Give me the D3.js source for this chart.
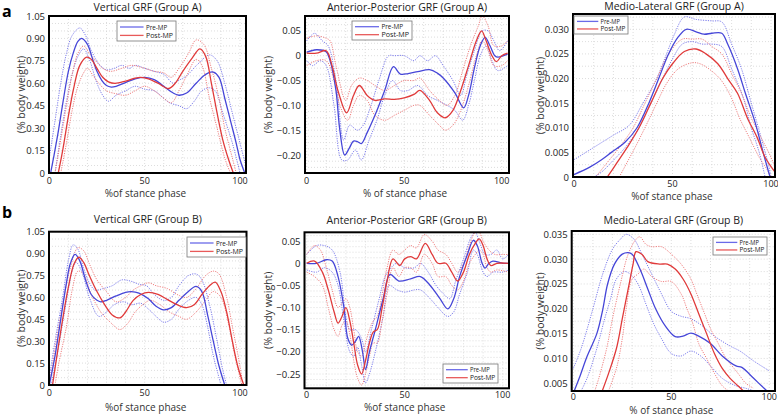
<!DOCTYPE html>
<html><head><meta charset="utf-8">
<script src="https://cdn.jsdelivr.net/npm/d3@7"></script>
<style>body{margin:0;background:#fff}svg{display:block}text{font-family:"Open Sans","DejaVu Sans",sans-serif}</style>
</head><body><svg id="c" width="778" height="415"></svg>
<script>
// ---------------- DATA ----------------
const seriesNames = ["Pre-MP", "Post-MP"];
const titles = ["Vertical GRF (Group A)", "Anterior-Posterior GRF (Group A)", "Medio-Lateral GRF (Group A)",
                "Vertical GRF (Group B)", "Anterior-Posterior GRF (Group B)", "Medio-Lateral GRF (Group B)"];
const xTicks = [0, 50, 100];
const yTicksVert = [0, 0.15, 0.30, 0.45, 0.60, 0.75, 0.90, 1.05];
const yTicksApA = [0.05, 0, -0.05, -0.10, -0.15, -0.20];
const yTicksMlA = [0, 0.005, 0.010, 0.015, 0.020, 0.025, 0.030];
const yTicksApB = [0.05, 0, -0.05, -0.10, -0.15, -0.20, -0.25];
const yTicksMlB = [0.005, 0.010, 0.015, 0.020, 0.025, 0.030, 0.035];

// Vertical GRF, group A
const vertA_pre_mean = [[0.7,0],[2.5,0.12],[5,0.3],[7.5,0.5],[10,0.68],[12.5,0.8],[15,0.88],[17,0.9],[20,0.86],[22.5,0.77],[25,0.68],[27.5,0.62],[30,0.585],[32.5,0.575],[35,0.58],[40,0.605],[45,0.63],[50,0.64],[55,0.625],[60,0.58],[65,0.535],[68,0.52],[72,0.535],[77,0.6],[82,0.66],[86,0.675],[89,0.64],[92,0.5],[95,0.35],[98,0.2],[100,0.09],[102.5,0]];
const vertA_pre_hi = [[0,0.1],[3,0.35],[6,0.6],[9,0.8],[12,0.92],[16,0.97],[19,0.92],[22,0.82],[26,0.73],[30,0.69],[34,0.7],[38,0.72],[42,0.7],[45,0.72],[50,0.7],[55,0.68],[60,0.66],[65,0.6],[68,0.62],[72,0.65],[78,0.73],[84,0.79],[88,0.75],[92,0.6],[96,0.4],[100,0.2],[103,0.05]];
const vertA_pre_lo = [[3,0],[6,0.25],[9,0.48],[12,0.66],[15,0.78],[18,0.83],[21,0.76],[25,0.6],[28,0.52],[31,0.48],[35,0.52],[40,0.55],[45,0.58],[50,0.56],[55,0.55],[60,0.5],[63,0.47],[68,0.45],[72,0.43],[76,0.48],[80,0.55],[84,0.57],[87,0.55],[91,0.4],[96,0.2],[100,0]];
const vertA_post_mean = [[4.7,0],[7,0.15],[10,0.38],[13,0.58],[16,0.72],[19.6,0.775],[22,0.76],[25,0.7],[28,0.64],[31,0.61],[34.5,0.6],[40,0.615],[45,0.635],[48,0.64],[52,0.63],[57,0.6],[62.5,0.565],[66,0.6],[70,0.68],[75,0.77],[79,0.83],[82,0.78],[85,0.6],[88,0.4],[91,0.22],[94,0.09],[96.5,0]];
const vertA_post_hi = [[3,0],[6,0.22],[9,0.45],[12,0.66],[15,0.8],[18,0.85],[21,0.8],[25,0.74],[28,0.7],[32,0.68],[38,0.7],[43,0.72],[50,0.7],[55,0.68],[60,0.67],[64,0.64],[68,0.7],[73,0.8],[77,0.89],[81,0.86],[85,0.7],[89,0.5],[92,0.3],[96,0.1],[98,0]];
const vertA_post_lo = [[6,0],[9,0.2],[12,0.42],[15,0.58],[18,0.67],[20,0.7],[23,0.65],[26,0.6],[30,0.55],[35,0.53],[40,0.52],[45,0.55],[50,0.58],[55,0.55],[60,0.5],[64,0.47],[68,0.55],[72,0.65],[77,0.76],[80,0.72],[84,0.5],[88,0.3],[92,0.1],[95,0]];

// Anterior-Posterior GRF, group A
const apA_pre_mean = [[0,0.007],[5,0.012],[10,0.008],[12,-0.01],[15,-0.07],[17,-0.15],[19.5,-0.2],[22,-0.185],[24,-0.172],[26,-0.173],[28,-0.177],[31,-0.155],[35,-0.12],[40,-0.07],[44.5,-0.022],[48,-0.037],[52,-0.036],[57,-0.032],[63,-0.028],[67,-0.035],[70,-0.045],[76,-0.075],[80.5,-0.105],[83,-0.08],[86,-0.025],[89,0.02],[91.5,0.037],[94,0.02],[96.5,0.0],[98,-0.003],[103,0.003]];
const apA_pre_hi = [[0,0.03],[4,0.045],[8,0.03],[11,0.02],[15,-0.05],[19,-0.17],[22,-0.14],[26,-0.15],[29,-0.14],[33,-0.1],[37,-0.05],[42,0.0],[45,0.0],[50,0.0],[55,-0.01],[58,0.0],[62,-0.01],[66,0.0],[70,-0.02],[75,-0.05],[79,-0.08],[82,-0.04],[86,0.01],[90,0.05],[93,0.05],[96,0.03],[99,0.01],[103,0.03]];
const apA_pre_lo = [[0,-0.01],[3,-0.02],[7,-0.01],[10,-0.02],[14,-0.1],[18,-0.21],[21,-0.21],[25,-0.19],[28,-0.21],[32,-0.17],[36,-0.13],[40,-0.08],[44,-0.05],[48,-0.07],[52,-0.07],[57,-0.06],[62,-0.08],[67,-0.09],[72,-0.1],[76,-0.11],[80,-0.13],[83,-0.1],[86,-0.05],[89,0.0],[92,0.02],[95,-0.01],[98,-0.03],[103,-0.02]];
const apA_post_mean = [[0,0.005],[5,0.005],[10,0.01],[13,-0.02],[16,-0.07],[20.5,-0.115],[24,-0.08],[27,-0.06],[31,-0.08],[35,-0.09],[40,-0.087],[45,-0.088],[50,-0.085],[55,-0.078],[58,-0.07],[63,-0.09],[67,-0.115],[71,-0.125],[75,-0.11],[79,-0.07],[83,-0.02],[87,0.03],[89.7,0.05],[92,0.03],[95,0.0],[97.3,-0.012],[100,0.0],[103,0.005]];
const apA_post_hi = [[0,0.035],[5,0.04],[10,0.035],[12,0.03],[15,-0.02],[20,-0.09],[23,-0.06],[27,-0.045],[31,-0.05],[35,-0.06],[40,-0.07],[45,-0.06],[50,-0.05],[55,-0.05],[58,-0.045],[63,-0.07],[68,-0.09],[72,-0.1],[76,-0.08],[80,-0.03],[84,0.02],[88,0.06],[90,0.08],[93,0.06],[96,0.02],[100,0.02],[103,0.03]];
const apA_post_lo = [[0,-0.02],[5,-0.01],[10,-0.01],[14,-0.05],[17,-0.1],[21,-0.13],[24,-0.1],[27,-0.08],[31,-0.09],[35,-0.12],[40,-0.13],[45,-0.12],[50,-0.11],[55,-0.1],[58,-0.1],[63,-0.12],[68,-0.14],[71,-0.15],[75,-0.14],[79,-0.11],[83,-0.06],[87,0.0],[90,0.03],[93,0.01],[96,-0.02],[100,-0.02],[103,-0.01]];

// Medio-Lateral GRF, group A
const mlA_pre_mean = [[0,0.0005],[8,0.002],[14,0.0035],[19,0.005],[26,0.0071],[32,0.01],[38,0.015],[43,0.02],[48,0.025],[53,0.0285],[57,0.030],[62,0.0295],[66,0.029],[70,0.0292],[75,0.0292],[78,0.027],[83,0.022],[87,0.017],[92,0.011],[96,0.005],[99.5,0]];
const mlA_pre_hi = [[0,0.0035],[6,0.005],[14,0.007],[20,0.0085],[28,0.0105],[35,0.015],[42,0.02],[47,0.025],[51,0.029],[56,0.0325],[62,0.032],[70,0.0317],[75,0.0315],[80,0.027],[85,0.022],[90,0.015],[95,0.008],[99,0.002],[100,0]];
const mlA_pre_lo = [[10,0],[14,0.001],[19,0.003],[26,0.006],[33,0.01],[39,0.015],[45,0.02],[50,0.024],[55,0.027],[60,0.0275],[65,0.027],[70,0.027],[75,0.0265],[80,0.022],[86,0.016],[90,0.01],[94,0.005],[97,0]];
const mlA_post_mean = [[16.9,0],[22,0.003],[27,0.006],[33,0.01],[39,0.015],[45,0.02],[50,0.023],[56,0.0255],[62,0.026],[67,0.025],[73,0.023],[78,0.02],[83,0.017],[88,0.012],[93,0.008],[97,0.004],[102,0.001]];
const mlA_post_hi = [[11,0],[17,0.003],[23,0.006],[30,0.01],[36,0.015],[42,0.02],[48,0.025],[55,0.028],[60,0.028],[65,0.028],[70,0.0265],[75,0.025],[80,0.021],[85,0.017],[90,0.012],[95,0.008],[100,0.004],[102,0.002]];
const mlA_post_lo = [[23,0],[27,0.003],[31,0.006],[36,0.01],[42,0.015],[47,0.019],[53,0.022],[60,0.0232],[64,0.023],[70,0.0215],[75,0.0195],[80,0.016],[84,0.012],[89,0.008],[94,0.004],[98,0.0015],[100,0]];

// Vertical GRF, group B
const vertB_pre_mean = [[0,0],[3,0.2],[6,0.45],[9,0.7],[11,0.83],[13.5,0.895],[16,0.85],[19,0.72],[22,0.62],[25,0.58],[27,0.57],[30,0.58],[35,0.61],[40,0.635],[43,0.64],[47,0.63],[52,0.59],[56,0.54],[60,0.515],[64,0.53],[68,0.58],[72,0.63],[77,0.675],[80,0.64],[83,0.48],[86,0.3],[89,0.13],[92,0]];
const vertB_pre_hi = [[0,0.05],[3,0.3],[7,0.6],[10,0.85],[12.5,0.96],[15,0.93],[18,0.8],[21,0.7],[24,0.65],[28,0.66],[33,0.68],[38,0.72],[43,0.71],[47,0.69],[51,0.68],[55,0.62],[60,0.58],[64,0.6],[68,0.68],[73,0.75],[77,0.76],[80,0.72],[84,0.55],[88,0.3],[91,0.1],[93,0]];
const vertB_pre_lo = [[1,0],[4,0.2],[8,0.5],[12,0.78],[14,0.84],[17,0.78],[21,0.6],[26,0.47],[30,0.5],[34,0.55],[39,0.57],[43,0.55],[48,0.56],[52,0.52],[56,0.47],[60,0.43],[64,0.45],[68,0.52],[73,0.58],[77,0.6],[80,0.55],[83,0.4],[86,0.2],[89,0.05],[90,0]];
const vertB_post_mean = [[1.7,0],[4,0.2],[7,0.45],[10,0.67],[13,0.83],[15.5,0.875],[18,0.84],[21,0.75],[25,0.64],[29,0.55],[33,0.48],[37,0.46],[40,0.5],[44,0.58],[48,0.62],[52,0.635],[57,0.62],[62,0.585],[67,0.55],[72,0.53],[76,0.55],[80,0.62],[84,0.68],[87,0.705],[90,0.64],[93,0.5],[96,0.3],[99,0.12],[102,0]];
const vertB_post_hi = [[0,0],[3,0.25],[7,0.55],[11,0.8],[15,0.94],[18,0.92],[21,0.83],[25,0.72],[30,0.64],[35,0.57],[40,0.6],[44,0.65],[48,0.68],[52,0.7],[56,0.68],[62,0.66],[67,0.62],[72,0.6],[77,0.66],[82,0.75],[86,0.78],[89,0.76],[93,0.6],[96,0.4],[99,0.2],[101,0.05]];
const vertB_post_lo = [[3,0],[5,0.15],[9,0.4],[12,0.65],[15,0.78],[18,0.76],[22,0.62],[27,0.5],[32,0.43],[37,0.38],[41,0.42],[45,0.5],[49,0.55],[53,0.58],[58,0.55],[63,0.5],[68,0.47],[72,0.45],[77,0.5],[82,0.58],[86,0.64],[90,0.6],[94,0.42],[97,0.22],[100,0.05],[101,0]];

// Anterior-Posterior GRF, group B
const apB_pre_mean = [[0,0],[5,0],[10,0.008],[13,0.005],[16,-0.03],[19,-0.1],[21,-0.17],[23,-0.185],[25,-0.175],[26.5,-0.165],[28.5,-0.2],[30,-0.24],[32,-0.2],[35,-0.15],[39,-0.08],[42.5,-0.025],[47,-0.04],[53,-0.035],[58,-0.03],[63,-0.05],[68,-0.08],[72,-0.103],[75,-0.08],[78,-0.03],[82,0.02],[85,0.052],[87,0.04],[89.5,0.0],[91,-0.011],[93,0.0],[95,0.005],[100,0.0],[103,0]];
const apB_pre_hi = [[0,0.02],[5,0.04],[9,0.04],[13,0.03],[17,-0.02],[20,-0.12],[22,-0.15],[25,-0.15],[28,-0.17],[30,-0.2],[33,-0.15],[37,-0.08],[40,-0.03],[43,-0.01],[46,0.0],[50,-0.01],[55,-0.01],[58,0.0],[62,-0.02],[66,-0.05],[70,-0.07],[73,-0.08],[76,-0.04],[80,0.01],[84,0.06],[86,0.07],[88,0.05],[91,0.02],[94,0.02],[97,0.03],[100,0.01],[103,0.02]];
const apB_pre_lo = [[0,-0.015],[5,-0.02],[9,-0.01],[13,-0.02],[16,-0.05],[19,-0.13],[22,-0.2],[24,-0.21],[26,-0.19],[28,-0.23],[30,-0.27],[32,-0.25],[35,-0.2],[39,-0.12],[42,-0.05],[46,-0.06],[50,-0.065],[55,-0.06],[58,-0.06],[63,-0.08],[67,-0.1],[72,-0.12],[75,-0.11],[78,-0.07],[82,-0.02],[85,0.03],[87,0.02],[90,-0.02],[92,-0.03],[95,-0.02],[100,-0.02],[103,-0.015]];
const apB_post_mean = [[0,0],[4,0.005],[8,-0.02],[11,-0.06],[14,-0.11],[16,-0.135],[18,-0.12],[20,-0.1],[22,-0.13],[24,-0.18],[26,-0.23],[28,-0.25],[30,-0.22],[32,-0.18],[34,-0.155],[36,-0.15],[38.5,-0.1],[41,-0.04],[44,0.01],[47.5,-0.005],[50,0.01],[53,0.015],[56,0.01],[60.5,0.045],[64,0.02],[67,0.0],[71,0.0],[74,-0.02],[77,-0.04],[80,-0.02],[83,0.02],[86,0.045],[88,0.055],[90,0.04],[92,0.01],[94,-0.005],[97,0.0],[103,0]];
const apB_post_hi = [[0,0.02],[4,0.04],[7,0.03],[10,-0.01],[13,-0.06],[16,-0.1],[18,-0.09],[20,-0.08],[22,-0.1],[24,-0.15],[26,-0.2],[28,-0.21],[30,-0.18],[32,-0.15],[34,-0.13],[36,-0.12],[38.5,-0.07],[41,-0.01],[44,0.03],[47,0.02],[50,0.03],[53,0.04],[56,0.035],[60,0.065],[64,0.05],[67,0.03],[71,0.02],[74,0.0],[77,-0.02],[80,0.0],[83,0.04],[86,0.07],[88,0.07],[90,0.05],[93,0.03],[96,0.02],[100,0.02],[103,0.02]];
const apB_post_lo = [[0,-0.02],[4,-0.03],[8,-0.05],[11,-0.1],[14,-0.15],[16,-0.165],[18,-0.14],[20,-0.13],[22,-0.16],[24,-0.22],[26,-0.26],[28,-0.275],[30,-0.25],[32,-0.21],[34,-0.18],[36,-0.18],[38.5,-0.13],[41,-0.07],[44,-0.01],[47,-0.03],[50,-0.01],[53,-0.01],[56,-0.02],[60,0.02],[64,0.0],[67,-0.03],[71,-0.03],[74,-0.05],[77,-0.06],[80,-0.04],[83,0.0],[86,0.02],[88,0.03],[90,0.02],[92,-0.01],[94,-0.02],[97,-0.015],[103,-0.02]];

// Medio-Lateral GRF, group B
const mlB_pre_mean = [[0,0.003],[3,0.006],[7,0.0104],[12,0.015],[15,0.0198],[17.5,0.025],[21,0.029],[25,0.031],[28,0.0313],[30,0.031],[34,0.028],[38,0.024],[42,0.02],[47,0.0165],[52,0.0144],[56,0.0145],[60,0.0151],[64,0.0145],[70,0.013],[76,0.0105],[83,0.0085],[86,0.0082],[92,0.006],[96,0.0045],[100,0.003]];
const mlB_pre_hi = [[0,0.008],[4,0.012],[10,0.02],[15,0.027],[20,0.032],[24,0.034],[27,0.035],[31,0.034],[35,0.031],[40,0.027],[45,0.023],[50,0.0195],[55,0.0185],[60,0.018],[66,0.0165],[72,0.0145],[80,0.0125],[85,0.0115],[92,0.0095],[100,0.0075]];
const mlB_pre_lo = [[4,0.0035],[7,0.006],[12,0.012],[16,0.018],[19,0.022],[22,0.026],[26,0.0275],[29,0.027],[33,0.025],[37,0.021],[41,0.017],[45,0.014],[50,0.011],[55,0.0105],[60,0.0115],[65,0.0105],[70,0.0085],[76,0.006],[83,0.0045],[88,0.004],[92,0.0035]];
const mlB_post_mean = [[14.8,0.0035],[18,0.007],[22,0.012],[25,0.018],[28,0.024],[30.5,0.029],[32,0.0315],[35,0.031],[38,0.0295],[44,0.029],[48,0.029],[52,0.028],[56,0.026],[60,0.023],[64,0.019],[68,0.015],[72,0.011],[76,0.008],[80,0.006],[84,0.0045],[88,0.003]];
const mlB_post_hi = [[11,0.0035],[13,0.006],[17,0.012],[20,0.018],[24,0.025],[28,0.031],[32,0.034],[34,0.0345],[37,0.033],[40,0.0325],[45,0.0325],[50,0.031],[55,0.029],[60,0.026],[63,0.023],[67,0.019],[70,0.016],[74,0.013],[78,0.01],[82,0.008],[85,0.0065],[88,0.005],[92,0.004]];
const mlB_post_lo = [[18,0.0035],[22,0.008],[25,0.014],[27,0.02],[30,0.026],[33,0.027],[36,0.028],[40,0.0265],[45,0.0255],[50,0.0255],[55,0.023],[58,0.02],[61,0.017],[64,0.013],[68,0.01],[72,0.007],[76,0.0045],[79,0.0035]];

// ---------------- LAYOUT ----------------
const svg = d3.select("#c");
const blue = "#4646d8", red = "#e03a3a", blueBand = "#7c7cec", redBand = "#ef8080";

const fmt2 = v => v === 0 ? "0" : d3.format(".2f")(v);
const fmt3 = v => v === 0 ? "0" : d3.format(".3f")(v);

const panels = [
  {title: titles[0], frame:[49,16,246,173], xr:[49.3,240], yd:[0,1.05], yr:[173,16], ticks:yTicksVert, fmt:fmt2, grid:0.05,
   pre:[vertA_pre_mean,vertA_pre_hi,vertA_pre_lo], post:[vertA_post_mean,vertA_post_hi,vertA_post_lo],
   legend:[117,21,59,20], xlab:"%of stance phase", ylabX:21, titleY:11, xlabY:197, tickDy:11},
  {title: titles[1], frame:[305,16,509,173], xr:[306.7,501.7], yd:[0,-0.2], yr:[55.7,155], ticks:yTicksApA, fmt:fmt2, grid:0.0125,
   pre:[apA_pre_mean,apA_pre_hi,apA_pre_lo], post:[apA_post_mean,apA_post_hi,apA_post_lo],
   legend:[352,21,60,19], xlab:"% of stance phase", ylabX:268, titleY:11, xlabY:197, tickDy:11},
  {title: titles[2], frame:[573,14,775,177], xr:[574,771], yd:[0,0.03], yr:[177,29.3], ticks:yTicksMlA, fmt:fmt3, grid:0.0025,
   pre:[mlA_pre_mean,mlA_pre_hi,mlA_pre_lo], post:[mlA_post_mean,mlA_post_hi,mlA_post_lo],
   legend:[574,16,54,18], xlab:"%of stance phase", ylabX:540, titleY:10, xlabY:199.5, tickDy:10},
  {title: titles[3], frame:[49,231.7,246.5,385], xr:[49.3,240], yd:[0,1.05], yr:[385,231.7], ticks:yTicksVert, fmt:fmt2, grid:0.05,
   pre:[vertB_pre_mean,vertB_pre_hi,vertB_pre_lo], post:[vertB_post_mean,vertB_post_hi,vertB_post_lo],
   legend:[187,237,59,20], xlab:"%of stance phase", ylabX:21, titleY:223, xlabY:411, tickDy:11},
  {title: titles[4], frame:[304.5,232.3,509,388.3], xr:[306.7,502.7], yd:[0,-0.25], yr:[263.3,374], ticks:yTicksApB, fmt:fmt2, grid:0.0125,
   pre:[apB_pre_mean,apB_pre_hi,apB_pre_lo], post:[apB_post_mean,apB_post_hi,apB_post_lo],
   legend:[443,364,55,19], xlab:"%of stance phase", ylabX:268, titleY:224, xlabY:411, tickDy:10},
  {title: titles[5], frame:[571.7,231,775,391], xr:[573.3,769.3], yd:[0.005,0.035], yr:[383.3,234.3], ticks:yTicksMlB, fmt:fmt3, grid:0.0025,
   pre:[mlB_pre_mean,mlB_pre_hi,mlB_pre_lo], post:[mlB_post_mean,mlB_post_hi,mlB_post_lo],
   legend:[713,237,54,18], xlab:"% of stance phase", ylabX:540, titleY:224, xlabY:413.5, tickDy:8.5}
];

panels.forEach((p, i) => {
  const [L,T,R,B] = p.frame;
  const x = d3.scaleLinear().domain([0,100]).range(p.xr);
  const y = d3.scaleLinear().domain(p.yd).range(p.yr);
  const g = svg.append("g");
  const cid = "clip" + i;
  svg.append("clipPath").attr("id", cid).append("rect").attr("x", L).attr("y", T).attr("width", R-L).attr("height", B-T);

  // grid
  const gg = g.append("g").attr("clip-path", `url(#${cid})`);
  const xMax = x.invert(R);
  for (let v = 0; v <= xMax; v += 10) {
    gg.append("line").attr("x1", x(v)).attr("x2", x(v)).attr("y1", T).attr("y2", B)
      .attr("stroke", "#d4d4d4").attr("stroke-width", 0.8).attr("stroke-dasharray", "1,2");
  }
  const yLo = Math.min(y.invert(B), y.invert(T)), yHi = Math.max(y.invert(B), y.invert(T));
  const start = Math.ceil(yLo / p.grid - 1e-6);
  for (let k = start; k * p.grid <= yHi + 1e-9; k++) {
    const v = k * p.grid;
    gg.append("line").attr("x1", L).attr("x2", R).attr("y1", y(v)).attr("y2", y(v))
      .attr("stroke", "#d4d4d4").attr("stroke-width", 0.8).attr("stroke-dasharray", "1,2");
  }

  // lines
  const line = d3.line().x(d => x(d[0])).y(d => y(d[1])).curve(d3.curveCatmullRom.alpha(0.5));
  const lg = g.append("g").attr("clip-path", `url(#${cid})`);
  [[p.pre, blueBand], [p.post, redBand]].forEach(([s, cb]) => {
    lg.append("path").attr("d", line(s[1])).attr("fill", "none").attr("stroke", cb).attr("stroke-width", 1).attr("stroke-dasharray", "1.2,1.2");
    lg.append("path").attr("d", line(s[2])).attr("fill", "none").attr("stroke", cb).attr("stroke-width", 1).attr("stroke-dasharray", "1.2,1.2");
  });
  [[p.pre, blue], [p.post, red]].forEach(([s, c]) => {
    lg.append("path").attr("d", line(s[0])).attr("fill", "none").attr("stroke", c).attr("stroke-width", 1.3);
  });

  // frame
  g.append("rect").attr("x", L).attr("y", T).attr("width", R-L).attr("height", B-T)
    .attr("fill", "none").attr("stroke", "#000").attr("stroke-width", 2);

  // y ticks
  p.ticks.forEach(v => {
    g.append("text").attr("x", L - 4).attr("y", y(v) + 3.5).attr("text-anchor", "end")
      .attr("font-size", 9.5).attr("fill", "#222").text(p.fmt(v));
  });
  // x ticks
  xTicks.forEach(v => {
    g.append("text").attr("x", x(v)).attr("y", B + p.tickDy).attr("text-anchor", "middle")
      .attr("font-size", 9).attr("fill", "#222").text(v);
  });
  // title
  g.append("text").attr("x", (L+R)/2).attr("y", p.titleY).attr("text-anchor", "middle")
    .attr("font-size", 10.5).attr("fill", "#222").text(p.title);
  // x label
  g.append("text").attr("x", (L+R)/2 - 2).attr("y", p.xlabY).attr("text-anchor", "middle")
    .attr("font-size", 10).attr("fill", "#333").text(p.xlab);
  // y label
  g.append("text").attr("transform", `translate(${p.ylabX},${(T+B)/2}) rotate(-90)`).attr("text-anchor", "middle")
    .attr("dy", "0.35em").attr("font-size", 10.5).attr("fill", "#333").text("(% body weight)");

  // legend
  const [lx, ly, lw, lh] = p.legend;
  const leg = g.append("g");
  leg.append("rect").attr("x", lx).attr("y", ly).attr("width", lw).attr("height", lh)
    .attr("fill", "#fff").attr("stroke", "#777").attr("stroke-width", 0.8);
  [[seriesNames[0], "#6a6ae8"], [seriesNames[1], "#e85a5a"]].forEach(([name, c], k) => {
    const yy = ly + lh * (k === 0 ? 0.3 : 0.72);
    leg.append("line").attr("x1", lx + 3).attr("x2", lx + lw * 0.45).attr("y1", yy).attr("y2", yy)
      .attr("stroke", c).attr("stroke-width", 1.3);
    leg.append("text").attr("x", lx + lw * 0.49).attr("y", yy + 2.5).attr("font-size", 6.8)
      .attr("textLength", lw * (k === 0 ? 0.36 : 0.46)).attr("lengthAdjust", "spacingAndGlyphs")
      .attr("fill", "#222").text(name);
  });
});

// panel letters
svg.append("text").attr("x", 2).attr("y", 17).attr("font-family", "'DejaVu Serif','Liberation Serif',serif")
  .attr("font-weight", "bold").attr("font-size", 16).text("a");
svg.append("text").attr("x", 2).attr("y", 218).attr("font-family", "'DejaVu Serif','Liberation Serif',serif")
  .attr("font-weight", "bold").attr("font-size", 16).text("b");
</script>
</body></html>
